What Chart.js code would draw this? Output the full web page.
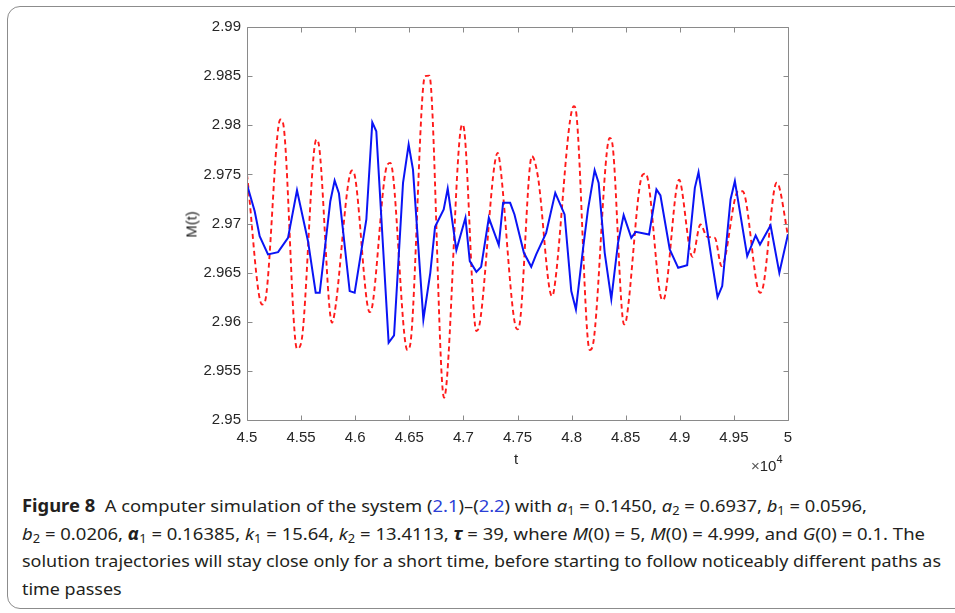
<!DOCTYPE html>
<html>
<head>
<meta charset="utf-8">
<script src="https://cdn.jsdelivr.net/npm/chart.js@4.4.1/dist/chart.umd.min.js"></script>
<style>
  body { margin: 0; width: 955px; height: 613px; overflow: hidden; background: #fff; position: relative; }
  #frame { position: absolute; left: 7px; top: 6px; width: 1000px; height: 601px; border: 1.5px solid #8c8c8c; border-radius: 13px; }
  #chartWrap { position: absolute; left: 0; top: 0; width: 955px; height: 480px; }
  .axlbl { position: absolute; font-family: "Liberation Sans", Arial, sans-serif; font-size: 15px; color: #262626; white-space: nowrap; }
  .cap { position: absolute; left: 22px; font-family: "Noto Sans", sans-serif; font-size: 17px; color: #231f20; white-space: nowrap; transform-origin: 0 0; }
  .cap i { font-style: italic; }
  .cap b.g { font-style: italic; font-weight: bold; }
  .cap .ref { color: #2b3fd6; }
  .cap sub { font-size: 70%; vertical-align: -0.25em; line-height: 0; }
</style>
</head>
<body>
<div id="frame"></div>
<div id="chartWrap"><canvas id="chart" width="955" height="480"></canvas></div>

<div class="axlbl" id="ytitle" style="left:171px; top:216px; transform: rotate(-90deg); transform-origin: 50% 50%; width:40px; text-align:center;">M(t)</div>
<div class="axlbl" style="left:514px; top:450px;">t</div>
<div class="axlbl" style="left:751px; top:455px;"><span style="color:#555">&times;</span>10<sup style="font-size:11px; position:relative; top:-2px;">4</sup></div>

<div class="cap" data-w="845" style="top:494px;"><b>Figure 8</b>&nbsp; A computer simulation of the system (<span class="ref">2.1</span>)–(<span class="ref">2.2</span>) with <i>a</i><sub>1</sub> = 0.1450, <i>a</i><sub>2</sub> = 0.6937, <i>b</i><sub>1</sub> = 0.0596,</div>
<div class="cap" data-w="903" style="top:522px;"><i>b</i><sub>2</sub> = 0.0206, <b class="g">α</b><sub>1</sub> = 0.16385, <i>k</i><sub>1</sub> = 15.64, <i>k</i><sub>2</sub> = 13.4113, <b class="g">τ</b> = 39, where <i>M</i>(0) = 5, <i>M</i>(0) = 4.999, and <i>G</i>(0) = 0.1. The</div>
<div class="cap" data-w="919" style="top:549px;">solution trajectories will stay close only for a short time, before starting to follow noticeably different paths as</div>
<div class="cap" data-w="same" style="top:577px;">time passes</div>

<script>
// tick values (t in units of 10^4)
const xTicks = [4.5, 4.55, 4.6, 4.65, 4.7, 4.75, 4.8, 4.85, 4.9, 4.95, 5];
const yTicks = [2.95, 2.955, 2.96, 2.965, 2.97, 2.975, 2.98, 2.985, 2.99];

// solid blue trajectory
const blueT = [4.5, 4.5071, 4.5117, 4.5194, 4.5287, 4.5379, 4.5462, 4.5564, 4.5635, 4.5672,
  4.5770, 4.5810, 4.5850, 4.5949, 4.5995, 4.6103, 4.6158, 4.6195, 4.6309, 4.6359,
  4.6442, 4.6494, 4.6534, 4.6630, 4.6694, 4.6738, 4.6818, 4.6855, 4.6935, 4.7019,
  4.7059, 4.7120, 4.7164, 4.7235, 4.7327, 4.7367, 4.7432, 4.7472, 4.7559, 4.7627,
  4.7673, 4.7765, 4.7849, 4.7935, 4.7997, 4.8040, 4.8105, 4.8151, 4.8213, 4.8250,
  4.8306, 4.8367, 4.8429, 4.8481, 4.8552, 4.8593, 4.8716, 4.8784, 4.8821, 4.8907,
  4.8985, 4.9068, 4.9139, 4.9173, 4.9293, 4.9349, 4.9392, 4.9469, 4.9509, 4.9623,
  4.9701, 4.9741, 4.9839, 4.9920, 5.0];
const blueM = [2.97397, 2.97125, 2.96871, 2.96685, 2.96708, 2.96854, 2.97339, 2.9682, 2.96295, 2.96295,
  2.97227, 2.97437, 2.97305, 2.96312, 2.96295, 2.97041, 2.9803, 2.97939, 2.95786, 2.95861,
  2.97414, 2.97803, 2.97549, 2.96024, 2.96498, 2.96966, 2.97142, 2.97356, 2.96729, 2.97058,
  2.96617, 2.96508, 2.96559, 2.97058, 2.9678, 2.9721, 2.9721, 2.97092, 2.96702, 2.96559,
  2.96685, 2.96905, 2.97312, 2.97092, 2.96312, 2.96125, 2.96736, 2.97142, 2.97542, 2.97414,
  2.96702, 2.9623, 2.96803, 2.97085, 2.96854, 2.96915, 2.96888, 2.97346, 2.97285, 2.96736,
  2.96549, 2.96576, 2.97363, 2.97522, 2.96641, 2.96251, 2.96363, 2.97244, 2.97431, 2.96668,
  2.96878, 2.96786, 2.9698, 2.96498, 2.9689];

// dashed red trajectory
const redT = [4.5, 4.5139, 4.5163, 4.5308, 4.5333, 4.5462, 4.5502, 4.5641, 4.5662, 4.5786,
  4.5810, 4.5970, 4.5992, 4.6134, 4.6158, 4.6294, 4.6325, 4.6482, 4.6509, 4.6645,
  4.6685, 4.6821, 4.6988, 4.7009, 4.7120, 4.7151, 4.7318, 4.7333, 4.7497, 4.7521,
  4.7633, 4.7688, 4.7818, 4.7836, 4.8021, 4.8043, 4.8167, 4.8198, 4.8352, 4.8373,
  4.8485, 4.8506, 4.8654, 4.8685, 4.8839, 4.8861, 4.8994, 4.9006, 4.9117, 4.9191,
  4.9253, 4.9324, 4.9386, 4.9540, 4.9580, 4.9741, 4.9771, 4.9895, 4.9917, 5.0];
const redM = [2.97498, 2.96176, 2.96193, 2.98058, 2.98024, 2.95725, 2.95793, 2.97854, 2.97814, 2.9599,
  2.96092, 2.97539, 2.97508, 2.96098, 2.96159, 2.9759, 2.97617, 2.95712, 2.9577, 2.98499,
  2.98505, 2.95227, 2.98007, 2.97939, 2.95905, 2.95983, 2.97719, 2.97651, 2.95922, 2.95983,
  2.97685, 2.97481, 2.96261, 2.96312, 2.98193, 2.98126, 2.95712, 2.9577, 2.97871, 2.97837,
  2.95973, 2.96024, 2.97492, 2.97508, 2.9622, 2.96254, 2.97447, 2.9742, 2.96661, 2.9699,
  2.96864, 2.96854, 2.96566, 2.97329, 2.97329, 2.96295, 2.96363, 2.97414, 2.9738, 2.96871];

const fmt = v => String(parseFloat(v.toFixed(3)));

// box around the axes with inward tick marks (MATLAB style)
const boxTicks = {
    id: 'boxTicks',
    afterDatasetsDraw(chart) {
        const { ctx, chartArea: a, scales } = chart;
        const L = Math.round(a.left) + 0.5, R = Math.round(a.right) + 0.5;
        const T = Math.round(a.top) + 0.5, B = Math.round(a.bottom) + 0.5;
        ctx.save();
        ctx.strokeStyle = '#8a8a8a';
        ctx.lineWidth = 1;
        ctx.beginPath();
        ctx.rect(L, T, R - L, B - T);
        scales.x.ticks.forEach(t => {
            const x = Math.round(scales.x.getPixelForValue(t.value)) + 0.5;
            ctx.moveTo(x, B); ctx.lineTo(x, B - 5);
            ctx.moveTo(x, T); ctx.lineTo(x, T + 5);
        });
        scales.y.ticks.forEach(t => {
            const y = Math.round(scales.y.getPixelForValue(t.value)) + 0.5;
            ctx.moveTo(L, y); ctx.lineTo(L + 5, y);
            ctx.moveTo(R, y); ctx.lineTo(R - 5, y);
        });
        ctx.stroke();
        ctx.restore();
    }
};

new Chart(document.getElementById('chart').getContext('2d'), {
    type: 'line',
    data: {
        datasets: [{
            label: 'M(t), M(0) = 5',
            data: blueT.map((t, i) => ({ x: t, y: blueM[i] })),
            borderColor: '#0a14f5',
            borderWidth: 2,
            pointRadius: 0,
            tension: 0
        }, {
            label: 'M(t), M(0) = 4.999',
            data: redT.map((t, i) => ({ x: t, y: redM[i] })),
            borderColor: '#ff1a1a',
            borderWidth: 1.9,
            borderDash: [5, 3.5],
            pointRadius: 0,
            cubicInterpolationMode: 'monotone'
        }]
    },
    options: {
        responsive: false,
        animation: false,
        layout: { padding: { top: 27, right: 167, left: 0, bottom: 0 } },
        plugins: { legend: { display: false }, tooltip: { enabled: false } },
        scales: {
            x: {
                type: 'linear',
                min: 4.5,
                max: 5,
                afterBuildTicks: s => { s.ticks = xTicks.map(v => ({ value: v })); },
                afterFit: s => { s.height = 60; },
                grid: { display: false, drawTicks: false },
                border: { display: false },
                ticks: {
                    padding: 9,
                    color: '#262626',
                    font: { family: '"Liberation Sans", Arial, sans-serif', size: 15 },
                    maxRotation: 0,
                    callback: v => fmt(v)
                }
            },
            y: {
                min: 2.95,
                max: 2.99,
                afterBuildTicks: s => { s.ticks = yTicks.map(v => ({ value: v })); },
                afterFit: s => { s.width = 247; },
                grid: { display: false, drawTicks: false },
                border: { display: false },
                ticks: {
                    padding: 6,
                    color: '#262626',
                    font: { family: '"Liberation Sans", Arial, sans-serif', size: 15 },
                    callback: v => fmt(v)
                }
            }
        }
    },
    plugins: [boxTicks]
});

// squeeze caption lines to the measured widths of the reference
let lastScale = 1;
document.querySelectorAll('.cap').forEach(el => {
    const w = el.getBoundingClientRect().width;
    const s = el.dataset.w === 'same' ? lastScale : Number(el.dataset.w) / w;
    el.style.transform = 'scaleX(' + s + ')';
    lastScale = s;
});
</script>
</body>
</html>
